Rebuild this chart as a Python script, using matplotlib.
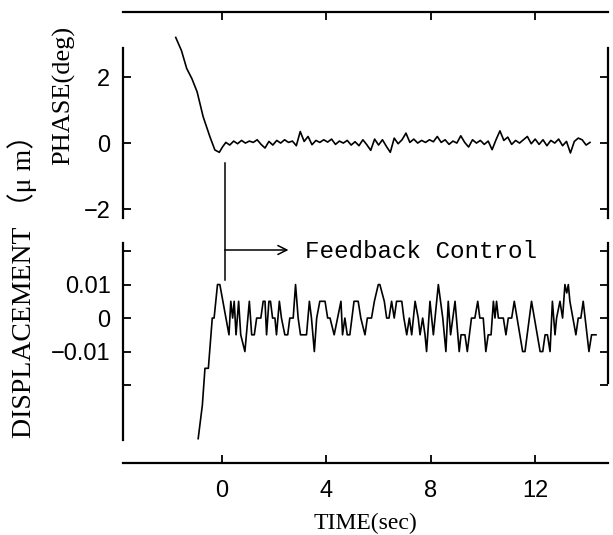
import matplotlib
matplotlib.use("Agg")
import matplotlib.pyplot as plt

# ---------------- data ----------------
# Phase (deg): transient before feedback, then small fluctuation
phase_t = [-1.77, -1.55, -1.35, -1.15, -0.95, -0.72, -0.46, -0.27, -0.10, 0.02,
           0.15, 0.30, 0.45, 0.60, 0.75, 0.90, 1.05, 1.20, 1.35, 1.50, 1.65,
           1.80, 1.95, 2.10, 2.25, 2.40, 2.55, 2.70, 2.85, 3.00, 3.15, 3.30,
           3.45, 3.60, 3.75, 3.90, 4.05, 4.20, 4.35, 4.50, 4.65, 4.80, 4.95,
           5.10, 5.25, 5.40, 5.55, 5.70, 5.85, 6.00, 6.15, 6.30, 6.45, 6.60,
           6.75, 6.90, 7.05, 7.20, 7.35, 7.50, 7.65, 7.80, 7.95, 8.10, 8.25,
           8.40, 8.55, 8.70, 8.85, 9.00, 9.15, 9.30, 9.45, 9.60, 9.75, 9.90,
           10.05, 10.20, 10.35, 10.50, 10.65, 10.80, 10.95, 11.10, 11.25, 11.40,
           11.55, 11.70, 11.85, 12.00, 12.15, 12.30, 12.45, 12.60, 12.75, 12.90,
           13.05, 13.20, 13.35, 13.50, 13.65, 13.80, 13.95, 14.10]
phase_v = [3.2, 2.80, 2.26, 1.95, 1.55, 0.80, 0.19, -0.21, -0.28, -0.12,
           0.02, -0.06, 0.06, -0.02, 0.08, 0.00, 0.06, 0.02, 0.10, -0.04, -0.15,
           0.05, -0.06, 0.08, 0.00, 0.10, 0.02, 0.06, -0.08, 0.35, 0.05, 0.20,
           -0.05, 0.08, 0.02, 0.10, 0.03, 0.12, -0.04, 0.06, 0.00, 0.08, -0.06,
           0.04, -0.08, 0.10, -0.05, -0.22, 0.12, -0.06, 0.10, -0.10, -0.28,
           0.15, -0.02, 0.10, 0.30, 0.02, 0.12, 0.00, 0.08, 0.02, 0.10, 0.04,
           0.20, 0.02, 0.10, -0.04, 0.06, 0.00, 0.22, 0.02, -0.12, 0.10, 0.00,
           0.08, -0.04, 0.06, -0.20, 0.10, 0.37, 0.08, 0.18, -0.04, 0.08, 0.00,
           0.10, 0.20, -0.02, 0.12, -0.04, 0.10, -0.08, 0.08, 0.00, 0.12, -0.08,
           0.05, -0.30, 0.05, 0.15, 0.10, -0.06, 0.02]

# Displacement (um)
disp_t = [-0.91, -0.75, -0.65, -0.52, -0.37, -0.30, -0.17, -0.08, 0.27, 0.34,
          0.41, 0.47, 0.54, 0.64, 0.72, 0.88, 1.05, 1.14, 1.24, 1.33, 1.49, 1.58,
          1.65, 1.71, 1.80, 1.86, 1.94, 2.03, 2.09, 2.20, 2.28, 2.41, 2.52, 2.60,
          2.73, 2.82, 2.92, 3.01, 3.12, 3.24, 3.35, 3.43, 3.54, 3.63, 3.75, 3.95,
          4.05, 4.14, 4.30, 4.43, 4.56, 4.62, 4.71, 4.80, 4.90, 5.06, 5.22, 5.32,
          5.48, 5.57, 5.73, 5.84, 5.99, 6.05, 6.22, 6.31, 6.40, 6.50, 6.60, 6.69,
          6.78, 6.89, 6.97, 7.08, 7.18, 7.27, 7.40, 7.52, 7.59, 7.69, 7.78, 7.84,
          7.97, 8.10, 8.29, 8.46, 8.58, 8.67, 8.76, 8.93, 9.09, 9.16, 9.31, 9.40,
          9.56, 9.69, 9.80, 9.88, 10.01, 10.11, 10.20, 10.31, 10.40, 10.46, 10.52,
          10.59, 10.65, 10.78, 10.88, 10.97, 11.10, 11.20, 11.52, 11.61, 11.86,
          12.19, 12.29, 12.38, 12.47, 12.57, 12.66, 12.76, 12.82, 12.95, 13.05,
          13.14, 13.21, 13.27, 13.33, 13.56, 13.65, 13.75, 13.84, 14.06, 14.16,
          14.33]
disp_v = [-0.036, -0.026, -0.015, -0.015, 0.0, 0.0, 0.01, 0.01, -0.005, 0.005,
          0.0, 0.005, -0.005, 0.005, -0.005, -0.01, 0.005, -0.005, -0.005, 0.0,
          0.0, 0.005, 0.005, -0.005, 0.005, 0.005, 0.0, 0.0, -0.005, 0.005, 0.0,
          -0.005, -0.005, 0.0, 0.0, 0.01, 0.0, -0.005, -0.005, -0.005, 0.005, 0.0,
          -0.01, 0.0, 0.005, 0.005, 0.0, 0.0, -0.005, 0.0, 0.005, -0.005, 0.0,
          -0.005, -0.005, 0.005, 0.005, 0.0, -0.005, 0.0, 0.0, 0.005, 0.01, 0.01,
          0.005, 0.0, 0.0, 0.005, 0.0, 0.005,
          0.005, 0.005, 0.0, -0.005, 0.0, -0.005, 0.005, 0.0, -0.005, 0.0, -0.005,
          -0.01, 0.005, -0.005, 0.01, 0.0, -0.01, 0.005, -0.005, 0.005, -0.01,
          -0.005, -0.005, -0.01, 0.0, 0.0, 0.005, 0.0, 0.0, -0.01, -0.005, -0.005,
          0.005, 0.0, 0.005, 0.0, 0.0, 0.0, -0.005, 0.0, 0.0, 0.005, -0.01, -0.01,
          0.005, -0.01, -0.01, -0.005, -0.005, -0.01, 0.005, -0.005, 0.0, 0.005,
          0.0, 0.01, 0.0075, 0.01, 0.005, -0.005, 0.0, 0.0, 0.005, -0.01, -0.005,
          -0.005]

time_ticks = [0, 4, 8, 12]
phase_ticks = [-2, 0, 2]
phase_labels = ["−2", "0", "2"]
disp_ticks = [-0.02, -0.01, 0.0, 0.01, 0.02]
disp_labels = ["", "−0.01", "0", "0.01", ""]

feedback_t = 0.11
annotation = "Feedback Control"

# ---------------- layout ----------------
W, H = 613, 535
fig = plt.figure(figsize=(W / 100, H / 100), dpi=100)


def rect(x0, y0, x1, y1):
    return [x0 / W, 1 - y1 / H, (x1 - x0) / W, (y1 - y0) / H]


XLIM = (-3.79, 14.79)
SANS = "Liberation Sans"
SERIF = "Liberation Serif"
LW_SPINE = 1.6
LW_LINE = 1.2
TICK_FS = 17

# Frame (top and bottom time axes)
frame = fig.add_axes(rect(123, 12, 608, 463))
frame.set_xlim(*XLIM)
frame.set_ylim(0, 1)
frame.patch.set_alpha(0)
for s in ("left", "right"):
    frame.spines[s].set_visible(False)
for s in ("top", "bottom"):
    frame.spines[s].set_linewidth(LW_SPINE)
frame.set_yticks([])
frame.set_xticks(time_ticks)
frame.set_xticklabels([str(v) for v in time_ticks], fontfamily=SANS,
                      fontsize=TICK_FS)
frame.tick_params(axis="x", direction="in", length=6, width=1.3, top=True,
                  bottom=True, pad=12)
frame.set_xlabel("TIME(sec)", fontfamily=SERIF, fontsize=17, labelpad=8)

# Phase axes
axp = fig.add_axes(rect(123, 48, 608, 218))
axp.set_xlim(*XLIM)
axp.set_ylim(-2.27, 2.88)
axp.patch.set_alpha(0)
for s in ("top", "bottom"):
    axp.spines[s].set_visible(False)
for s in ("left", "right"):
    axp.spines[s].set_linewidth(LW_SPINE)
axp.set_xticks([])
axp.set_yticks(phase_ticks)
axp.set_yticklabels(phase_labels, fontfamily=SANS, fontsize=TICK_FS)
axp.tick_params(axis="y", direction="in", length=6, width=1.3, left=True,
                right=True, pad=9)
axp.plot(phase_t, phase_v, color="black", lw=LW_LINE, clip_on=False)

# Displacement axes
axd = fig.add_axes(rect(123, 243, 608, 440))
axd.set_xlim(*XLIM)
axd.set_ylim(-0.0364, 0.0224)
axd.patch.set_alpha(0)
for s in ("top", "bottom"):
    axd.spines[s].set_visible(False)
for s in ("left", "right"):
    axd.spines[s].set_linewidth(LW_SPINE)
axd.spines["right"].set_bounds(-0.0195, 0.0224)
axd.set_xticks([])
axd.set_yticks(disp_ticks)
axd.set_yticklabels(disp_labels, fontfamily=SANS, fontsize=TICK_FS)
axd.tick_params(axis="y", direction="in", length=6, width=1.3, left=True,
                right=True, pad=9)
axd.plot(disp_t, disp_v, color="black", lw=LW_LINE, clip_on=False)

# Y labels
fig.text(64 / W, 1 - 95 / H, "PHASE(deg)", rotation=90, ha="center",
         va="center", fontfamily=SERIF, fontsize=19)
fig.text(22 / W, 1 - 280 / H, "DISPLACEMENT （μ m）", rotation=90,
         ha="center", va="center", fontfamily=[SERIF, "Noto Sans CJK JP"],
         fontsize=20)

# Feedback control marker (frame coords: y fraction of frame height)
frame.plot([feedback_t, feedback_t], [(463 - 163) / 451, (463 - 280) / 451],
           color="black", lw=1.1)
frame.annotate("", xy=(2.55, (463 - 250) / 451),
               xytext=(feedback_t, (463 - 250) / 451),
               arrowprops=dict(arrowstyle="->", color="black", lw=1.1,
                               mutation_scale=16, shrinkA=0, shrinkB=0))
frame.text(3.2, (463 - 252) / 451, annotation, fontfamily="Liberation Mono",
           fontsize=17.5, va="center", ha="left")

fig.savefig("out.png", dpi=100)
